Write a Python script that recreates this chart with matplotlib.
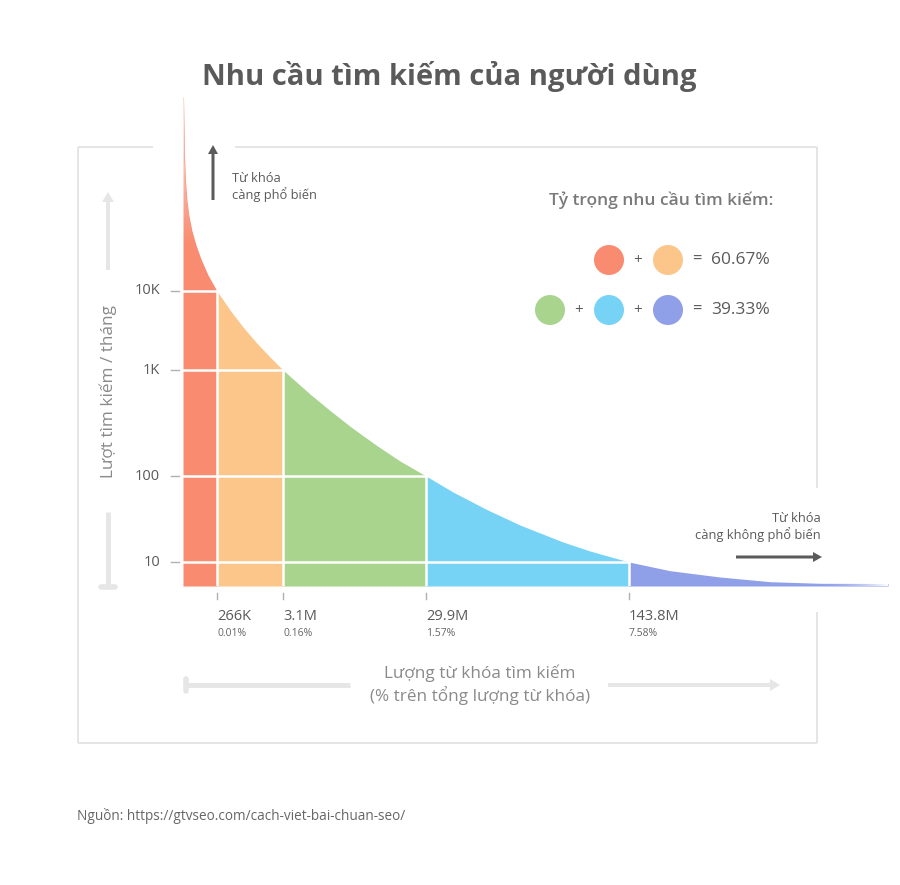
import numpy as np
import matplotlib
matplotlib.use("Agg")
from matplotlib import pyplot as plt
from matplotlib.patches import Circle, FancyArrow

plt.rcParams['font.family'] = ['Open Sans', 'DejaVu Sans']

# ---- data (stylised axes: position units) ----
curve_x = [0.5, 1, 1.5, 2.5, 4, 6, 9, 13, 18, 25, 34,
           47, 60, 73.7, 87, 100,
           127, 147, 168.7, 193.7, 217, 243,
           270, 303.7, 337, 380, 407, 446,
           487, 537, 587, 637, 705]
curve_h = [489, 460, 430, 405, 385, 370, 355, 341, 327, 311, 295,
           276, 259, 243, 229, 216,
           192, 175.5, 158.5, 140.5, 125, 110,
           94, 76.5, 61, 44, 35, 24,
           15.3, 9, 4.3, 2.7, 2.5]

level_labels = ['10K', '1K', '100', '10']
level_h = [295, 216, 110, 24]

bound_x = [34, 100, 243, 446]
bound_labels = ['266K', '3.1M', '29.9M', '143.8M']
bound_pct = ['0.01%', '0.16%', '1.57%', '7.58%']

seg_colors = ['#F88B70', '#FCC68A', '#A8D48E', '#77D3F6', '#8F9FE8']
share_groups = [[0, 1], [2, 3, 4]]
share_values = ['60.67%', '39.33%']

GREY = '#5a5a5a'
LIGHT = '#e6e6e6'

fig = plt.figure(figsize=(9, 8.85), dpi=100)
ov = fig.add_axes([0, 0, 1, 1])
ov.set_xlim(0, 900)
ov.set_ylim(885, 0)
ov.axis('off')

# frame with gaps
for xs, ys in [([78, 153], [147, 147]), ([235, 817], [147, 147]),
               ([78, 78], [147, 743]), ([78, 817], [743, 743]),
               ([817, 817], [147, 488]), ([817, 817], [612, 743])]:
    ov.plot(xs, ys, color='#e3e3e3', lw=1.3, solid_capstyle='butt')

# title
ov.text(449, 76, 'Nhu cầu tìm kiếm của người dùng', ha='center', va='center',
        fontsize=21, fontweight='bold', color=GREY)

# light axis arrows
ov.add_patch(FancyArrow(108, 270, 0, -78, width=4, head_width=12, head_length=10,
                        length_includes_head=True, color=LIGHT, lw=0))
ov.plot([108, 108], [512, 586], color=LIGHT, lw=3.5, solid_capstyle='butt')
ov.plot([101, 115], [587, 587], color=LIGHT, lw=4, solid_capstyle='round')
ov.plot([186, 350], [685, 685], color=LIGHT, lw=3.5, solid_capstyle='butt')
ov.plot([186, 186], [679, 691], color=LIGHT, lw=4, solid_capstyle='round')
ov.add_patch(FancyArrow(608, 685, 172, 0, width=4, head_width=12, head_length=10,
                        length_includes_head=True, color=LIGHT, lw=0))

ov.text(108, 391, 'Lượt tìm kiếm / tháng', rotation=90, ha='center', va='center',
        fontsize=12.3, color='#8a8a8a')
ov.text(480, 685, 'Lượng từ khóa tìm kiếm\n(% trên tổng lượng từ khóa)', ha='center',
        va='center', fontsize=12.3, color='#8a8a8a', linespacing=1.3)

# dark annotation arrows
ov.add_patch(FancyArrow(213, 200, 0, -55, width=3, head_width=10, head_length=9,
                        length_includes_head=True, color=GREY, lw=0))
ov.text(232, 187, 'Từ khóa\ncàng phổ biến', ha='left', va='center', fontsize=9.3,
        color=GREY, linespacing=1.25)
ov.add_patch(FancyArrow(736, 557, 86, 0, width=3, head_width=10, head_length=9,
                        length_includes_head=True, color=GREY, lw=0))
ov.text(821, 527, 'Từ khóa\ncàng không phổ biến', ha='right', va='center', fontsize=9.3,
        color=GREY, linespacing=1.25)

# share legend
ov.text(773, 200, 'Tỷ trọng nhu cầu tìm kiếm:', ha='right', va='center', fontsize=12.5,
        fontweight='semibold', color='#7a7a7a')
for row, (grp, val) in enumerate(zip(share_groups, share_values)):
    yy = 260 + row * 50
    for k, ci in enumerate(reversed(grp)):
        cx = 668 - k * 59
        ov.add_patch(Circle((cx, yy), 15, color=seg_colors[ci], lw=0))
        if k < len(grp) - 1:
            ov.text(cx - 30, yy, '+', ha='center', va='center', fontsize=11, color=GREY)
    ov.text(697, yy, '=', ha='center', va='center', fontsize=12, color=GREY)
    ov.text(711, yy, val, ha='left', va='center', fontsize=12.5, color=GREY)

ov.text(77, 816, 'Nguồn: https://gtvseo.com/cach-viet-bai-chuan-seo/', ha='left',
        va='center', fontsize=9.8, color='#666666')

# ---- main chart ----
ax = fig.add_axes([183 / 900, (885 - 586) / 885, 705 / 900, 489 / 885])
ax.patch.set_alpha(0)
for s in ax.spines.values():
    s.set_visible(False)
ax.set_xticks([])
ax.set_yticks([])

cx = np.array(curve_x)
ch = np.array(curve_h)
edges = [0] + bound_x + [705]
fills = []
for i in range(len(edges) - 1):
    m = (cx >= edges[i]) & (cx <= edges[i + 1])
    xs = cx[m]
    hs = ch[m]
    if i == 0:
        xs = np.r_[0, xs]
        hs = np.r_[hs[0], hs]
    fills.append(ax.fill_between(xs, 0, hs, color=seg_colors[i], lw=0))

# fade at the top of the red band and the end of the tail
grad = np.ones((100, 2, 4))
grad[..., 3] = np.linspace(0.8, 0, 100)[:, None]
im = ax.imshow(grad, extent=[0, 34, 340, 489], origin='upper', aspect='auto', zorder=2)
im.set_clip_path(fills[0].get_paths()[0], transform=ax.transData)
grad2 = np.ones((2, 100, 4))
grad2[..., 3] = np.linspace(0, 1, 100)[None, :] ** 2
ax.imshow(grad2, extent=[630, 705, 0, 12], origin='upper', aspect='auto', zorder=2)
ax.set_xlim(0, 705)
ax.set_ylim(0, 489)

# white grid lines
for h, bx in zip(level_h, bound_x):
    ax.plot([0, bx], [h, h], color='white', lw=1.8, zorder=3)
    ax.plot([bx, bx], [0, h], color='white', lw=1.8, zorder=3)

# y ticks
for h, lab in zip(level_h, level_labels):
    ax.plot([-12, -4], [h, h], color='#b0b0b0', lw=1, clip_on=False)
    ax.text(-23, h, lab, ha='right', va='center', fontsize=10.5, color=GREY, clip_on=False)

# x ticks
for bx, lab, pct in zip(bound_x, bound_labels, bound_pct):
    ax.plot([bx, bx], [-7, -13], color='#b0b0b0', lw=1, clip_on=False)
    ax.text(bx, -30, lab, ha='left', va='center', fontsize=10.5, color=GREY, clip_on=False)
    ax.text(bx, -48, pct, ha='left', va='center', fontsize=7.5, color='#666666', clip_on=False)

fig.savefig('out.png', dpi=100)
